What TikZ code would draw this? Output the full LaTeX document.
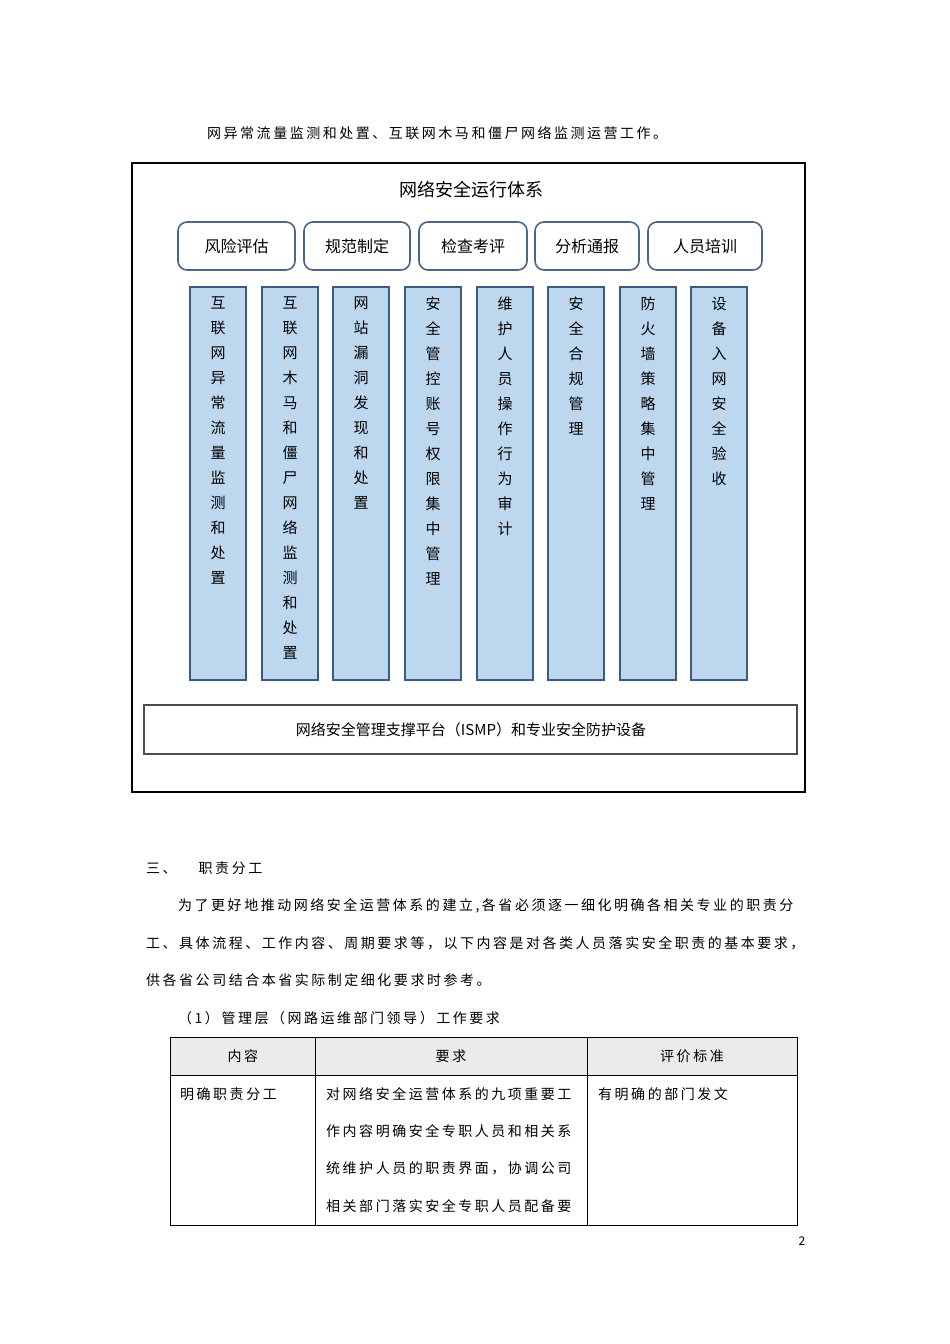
\documentclass[tikz,border=0pt]{standalone}
\usepackage{fontspec}
\setmainfont{Noto Sans CJK SC}
\newfontfamily\cjk{Noto Sans CJK SC}
\newfontfamily\cjksp[LetterSpace=18]{Noto Sans CJK SC}
\definecolor{colfill}{HTML}{BDD7EE}
\definecolor{colline}{HTML}{3B5C82}
\definecolor{boxline}{HTML}{4A6585}
\begin{document}
\begin{tikzpicture}[x=1pt,y=-1pt,
  bodyt/.style={anchor=west,inner sep=0pt,font=\cjksp\fontsize{14}{14}\selectfont},
  hbox/.style={draw=boxline,line width=1.6pt,rounded corners=9pt,fill=white},
  hlabel/.style={font=\cjk\fontsize{16}{16}\selectfont},
  colbox/.style={draw=colline,line width=1.3pt,fill=colfill},
  coltext/.style={anchor=north,align=center,inner sep=0pt,font=\cjk\fontsize{15}{25}\selectfont},
  cell/.style={anchor=west,inner sep=0pt,font=\cjksp\fontsize{14}{14}\selectfont}]
\useasboundingbox (0,0) rectangle (950,1344);
\fill[white] (0,0) rectangle (950,1344);
\node[bodyt] (l0) at (207,133) {网异常流量监测和处置、互联网木马和僵尸网络监测运营工作。};
\draw[line width=1.5pt] (132,163) rectangle (805,792);
\node[font=\cjk\fontsize{18}{18}\selectfont] (title) at (471,190) {网络安全运行体系};
\foreach \a/\b/\t in {178/295/风险评估,304/410/规范制定,419/527/检查考评,535/639/分析通报,648/762/人员培训}{
  \draw[hbox] (\a,222) rectangle (\b,270);
  \node[hlabel] at ({(\a+\b)/2},246) {\t};
}
\foreach \a/\t in {190/{互\\联\\网\\异\\常\\流\\量\\监\\测\\和\\处\\置},
  262/{互\\联\\网\\木\\马\\和\\僵\\尸\\网\\络\\监\\测\\和\\处\\置},
  333/{网\\站\\漏\\洞\\发\\现\\和\\处\\置},
  405/{安\\全\\管\\控\\账\\号\\权\\限\\集\\中\\管\\理},
  477/{维\\护\\人\\员\\操\\作\\行\\为\\审\\计},
  548/{安\\全\\合\\规\\管\\理},
  620/{防\\火\\墙\\策\\略\\集\\中\\管\\理},
  691/{设\\备\\入\\网\\安\\全\\验\\收}}{
  \draw[colbox] (\a,287) rectangle ({\a+56},680);
  \node[coltext] at ({\a+28},297) {\t};
}
\draw[line width=1.3pt,draw=black!70] (144,705) rectangle (797,754);
\node[font=\cjk\fontsize{15}{15}\selectfont] (plat) at (471,730) {网络安全管理支撑平台（ISMP）和专业安全防护设备};
\node[bodyt] (sec) at (146,868) {三、\hspace{22pt}职责分工};
\node[bodyt] (p1) at (178,906) {为了更好地推动网络安全运营体系的建立,各省必须逐一细化明确各相关专业的职责分};
\node[bodyt] (p2) at (146,943) {工、具体流程、工作内容、周期要求等，以下内容是对各类人员落实安全职责的基本要求，};
\node[bodyt] (p3) at (146,980) {供各省公司结合本省实际制定细化要求时参考。};
\node[bodyt] (p4) at (178,1018) {（1）管理层（网路运维部门领导）工作要求};
\fill[black!8] (170,1037) rectangle (797,1075);
\draw[line width=0.8pt] (170,1037) rectangle (797,1225);
\draw[line width=0.8pt] (170,1075) -- (797,1075);
\draw[line width=0.8pt] (315,1037) -- (315,1225);
\draw[line width=0.8pt] (587,1037) -- (587,1225);
\node[font=\cjksp\fontsize{14}{14}\selectfont] (h1) at (243,1056) {内容};
\node[font=\cjksp\fontsize{14}{14}\selectfont] (h2) at (451,1056) {要求};
\node[font=\cjksp\fontsize{14}{14}\selectfont] (h3) at (692,1056) {评价标准};
\node[cell] (c1) at (180,1094) {明确职责分工};
\node[cell] (c2a) at (326,1094) {对网络安全运营体系的九项重要工};
\node[cell] (c2b) at (326,1131) {作内容明确安全专职人员和相关系};
\node[cell] (c2c) at (326,1168) {统维护人员的职责界面，协调公司};
\node[cell] (c2d) at (326,1206) {相关部门落实安全专职人员配备要};
\node[cell] (c3) at (598,1094) {有明确的部门发文};
\node[font=\cjk\fontsize{12}{12}\selectfont] (pg) at (802,1241) {2};
\end{tikzpicture}
\end{document}
